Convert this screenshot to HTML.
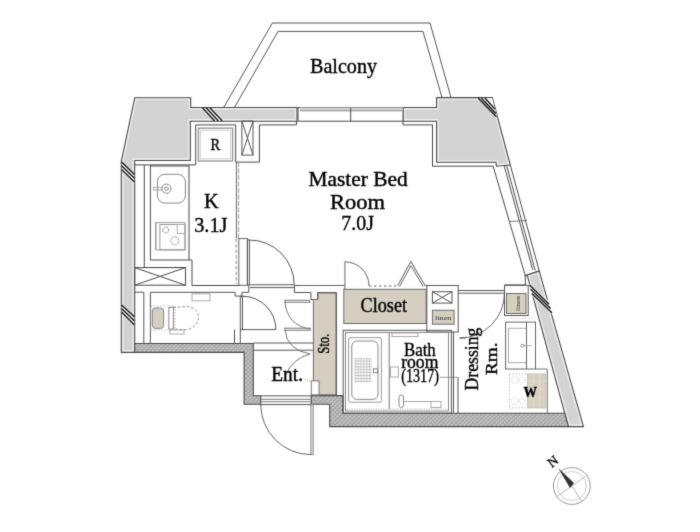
<!DOCTYPE html>
<html><head><meta charset="utf-8"><style>
html,body{margin:0;padding:0;background:#fff;}
svg{display:block;will-change:transform;}
text{font-family:"Liberation Serif",serif;fill:#000;stroke:#000;stroke-width:0.4px;}
</style></head><body>
<svg width="700" height="532" viewBox="0 0 700 532">
<defs>
<filter id="bl" x="0" y="0" width="700" height="532" filterUnits="userSpaceOnUse" color-interpolation-filters="sRGB"><feConvolveMatrix order="3" kernelMatrix="0.0144 0.0912 0.0144 0.0912 0.5776 0.0912 0.0144 0.0912 0.0144" divisor="1" edgeMode="duplicate"/></filter>
<pattern id="h" width="3" height="3" patternUnits="userSpaceOnUse" patternTransform="rotate(45)">
<rect width="3" height="3" fill="#c6c6c6"/><rect width="0.9" height="3" fill="#9a9a9a"/><rect width="3" height="0.9" fill="#a6a6a6"/>
</pattern>
<pattern id="h2" width="2.9" height="2.9" patternUnits="userSpaceOnUse">
<circle cx="1.45" cy="1.45" r="0.95" fill="#9a9a9a"/>
</pattern>
</defs>
<g filter="url(#bl)">
<rect width="700" height="532" fill="#fff"/>

<!-- BALCONY -->
<g fill="none" stroke="#555" stroke-width="1">
<polyline points="223.6,107.6 272.4,23 430,23 451,97.6"/>
<polyline points="234.4,107.6 278,31.4 423,31.4 442,97.6"/>
</g>

<!-- GRAY WALLS -->
<clipPath id="gc0"><polygon points="134.8,97.7 190.7,97.7 190.7,107.5 297,107.5 297,121.2 190.3,121.2 190.3,160.5 134.7,160.5 134.7,352.4 121.3,352.4 121.3,161.3"/></clipPath>
<polygon points="134.8,97.7 190.7,97.7 190.7,107.5 297,107.5 297,121.2 190.3,121.2 190.3,160.5 134.7,160.5 134.7,352.4 121.3,352.4 121.3,161.3" fill="#d3d3d3"/>
<polygon points="134.8,97.7 190.7,97.7 190.7,107.5 297,107.5 297,121.2 190.3,121.2 190.3,160.5 134.7,160.5 134.7,352.4 121.3,352.4 121.3,161.3" fill="none" stroke="#eeeeee" stroke-width="4.2" clip-path="url(#gc0)"/>
<polygon points="134.8,97.7 190.7,97.7 190.7,107.5 297,107.5 297,121.2 190.3,121.2 190.3,160.5 134.7,160.5 134.7,352.4 121.3,352.4 121.3,161.3" fill="none" stroke="#4a4a4a" stroke-width="1.1"/>
<clipPath id="gc1"><polygon points="403,107.5 436.6,107.5 436.6,97.6 492.3,97.6 510.3,165.1 496.5,166.2 496,162.3 436.6,162.3 436.6,121.2 403,121.2"/></clipPath>
<polygon points="403,107.5 436.6,107.5 436.6,97.6 492.3,97.6 510.3,165.1 496.5,166.2 496,162.3 436.6,162.3 436.6,121.2 403,121.2" fill="#d3d3d3"/>
<polygon points="403,107.5 436.6,107.5 436.6,97.6 492.3,97.6 510.3,165.1 496.5,166.2 496,162.3 436.6,162.3 436.6,121.2 403,121.2" fill="none" stroke="#eeeeee" stroke-width="4.2" clip-path="url(#gc1)"/>
<polygon points="403,107.5 436.6,107.5 436.6,97.6 492.3,97.6 510.3,165.1 496.5,166.2 496,162.3 436.6,162.3 436.6,121.2 403,121.2" fill="none" stroke="#4a4a4a" stroke-width="1.1"/>
<clipPath id="gc2"><polygon points="527.1,274.9 539.2,270.9 583.5,426.6 568.4,426.6"/></clipPath>
<polygon points="527.1,274.9 539.2,270.9 583.5,426.6 568.4,426.6" fill="#d3d3d3"/>
<polygon points="527.1,274.9 539.2,270.9 583.5,426.6 568.4,426.6" fill="none" stroke="#eeeeee" stroke-width="4.2" clip-path="url(#gc2)"/>
<polygon points="527.1,274.9 539.2,270.9 583.5,426.6 568.4,426.6" fill="none" stroke="#4a4a4a" stroke-width="1.1"/>
<!-- window top -->
<g stroke="#4a4a4a" stroke-width="1" fill="none">
<rect x="298" y="107.5" width="105" height="13.7" fill="#fff"/>
<rect x="300" y="107.5" width="103" height="3.2" fill="#d3d3d3" stroke="none"/>
<line x1="300" y1="110.8" x2="403" y2="110.8" stroke="#888"/>
<line x1="350.7" y1="108" x2="350.7" y2="121.2"/>
<line x1="296.5" y1="121.2" x2="296.5" y2="125"/>
</g>

<!-- HATCHED WALLS -->
<g fill="url(#h)" stroke="#4a4a4a" stroke-width="1.1">
<polygon points="134.7,343.5 253.3,343.5 253.3,395.8 260.7,395.8 260.7,404.2 244.1,404.2 244.1,352.4 134.7,352.4"/>
<polygon points="311.3,395.6 342.9,395.6 342.9,413.2 564.7,413.2 568.4,426.6 329.7,426.6 329.7,404.3 311.3,404.3"/>
</g>

<!-- triple break lines -->
<g fill="#fff" stroke="none">
<polygon points="200.8,108 211.6,108 224.2,120.6 213.2,120.6"/>
<polygon points="121.8,161.5 121.8,171.6 134.2,183.6 134.2,173.6"/>
<polygon points="121.8,304.3 121.8,314.2 134.2,326.3 134.2,316.3"/>
<polygon points="477,98.1 492,98.1 497.5,117.5"/>
<polygon points="528.8,283.6 532,296 552,314 550,302"/>
</g>
<g stroke="#111" stroke-width="1.4">
<line x1="202.4" y1="107.8" x2="214.7" y2="121"/>
<line x1="206.1" y1="107.8" x2="218.4" y2="121"/>
<line x1="209.8" y1="107.8" x2="222.4" y2="121"/>
<line x1="121.5" y1="162" x2="134.5" y2="174.6"/>
<line x1="121.5" y1="165.7" x2="134.5" y2="178.2"/>
<line x1="121.5" y1="169.4" x2="134.5" y2="182"/>
<line x1="121.5" y1="304.9" x2="134.5" y2="317"/>
<line x1="121.5" y1="308.5" x2="134.5" y2="321"/>
<line x1="121.5" y1="312.1" x2="134.5" y2="325"/>
<line x1="478.2" y1="98" x2="496.5" y2="116.8"/>
<line x1="481.3" y1="98" x2="495.9" y2="113.4"/>
<line x1="484.9" y1="98" x2="494.8" y2="108.9"/>
<line x1="529.5" y1="285.1" x2="549.1" y2="304.3"/>
<line x1="530.6" y1="289.3" x2="550.6" y2="308.5"/>
<line x1="531.8" y1="293.6" x2="551.9" y2="312.8"/>
</g>

<!-- FINISH LINES (room outlines) -->
<g fill="none" stroke="#4a4a4a" stroke-width="1">
<polyline points="134.7,164.9 195.7,164.9 195.7,124.9 235.7,124.9 235.7,162.1 259.4,162.1 259.4,124.9 296.5,124.9"/>
<polyline points="403,121.2 403,124.9 432.5,124.9 432.5,166.2 493.1,166.2 525.4,276 525.4,285 504.5,285 504.5,291"/>
<!-- slanted window -->
<line x1="504.3" y1="166" x2="532.7" y2="269.7"/>
<line x1="506.8" y1="166" x2="535.2" y2="270.5"/>
<line x1="524.2" y1="275.9" x2="539.8" y2="270.8"/>
<line x1="509" y1="221.5" x2="526.8" y2="220.5" stroke="#777"/>
<line x1="510.3" y1="165.1" x2="539.2" y2="270.9"/>
</g>

<!-- KITCHEN -->
<g fill="none" stroke="#4a4a4a" stroke-width="1">
<line x1="144.3" y1="165" x2="144.3" y2="267.5"/>
<polyline points="150.4,165 150.4,260 189,260"/>
<line x1="150.4" y1="166" x2="189" y2="166"/>
<polyline points="189,165 189,260 192,260 192,285.5 240.5,285.5"/>
<polyline points="144.3,267.5 185.5,267.5 185.5,285.3"/>
<rect x="134.7" y="267.6" width="50.8" height="17.6"/>
<line x1="134.7" y1="267.6" x2="185.5" y2="285.2"/>
<line x1="185.5" y1="267.6" x2="134.7" y2="285.2"/>
</g>
<!-- sink -->
<g fill="none" stroke="#888" stroke-width="1">
<rect x="157.4" y="174.3" width="28" height="28.8" rx="7.5"/>
<circle cx="166.5" cy="188.7" r="4.6"/>
<circle cx="166.5" cy="188.7" r="1.8"/>
<rect x="153.5" y="187.4" width="8" height="2.6" stroke="#aaa"/>
<line x1="155.8" y1="222.6" x2="155.8" y2="249.9"/>
<rect x="155.8" y="222.6" width="29.2" height="27.3" stroke="#999"/>
<rect x="159.9" y="224.5" width="25.1" height="25.4" stroke="#999"/>
<rect x="177.3" y="224.5" width="7.7" height="9" stroke="#aaa"/>
<circle cx="165.7" cy="230" r="3" stroke-dasharray="1.6,0.8"/>
<circle cx="174.8" cy="240.8" r="4" stroke-dasharray="1.8,0.9"/>
</g>
<!-- fridge -->
<g fill="none" stroke="#555" stroke-width="1">
<rect x="198.4" y="128.2" width="34.2" height="32.8" stroke="#9a9a9a" stroke-width="1.4"/>
<rect x="200.6" y="130.4" width="29.8" height="28.4" stroke="#d0d0d0"/>
<rect x="241.9" y="121" width="11.1" height="34.1"/>
<line x1="241.9" y1="121" x2="253" y2="155.1"/>
<line x1="253" y1="121" x2="241.9" y2="155.1"/>
</g>

<!-- sliding partition kitchen / master -->
<g fill="none" stroke="#666" stroke-width="1">
<line x1="236.4" y1="162" x2="236.4" y2="238.5"/>
<line x1="238.6" y1="162" x2="238.6" y2="238.5" stroke-dasharray="5,1.5" stroke="#999"/>
<rect x="238.8" y="238.6" width="8.6" height="46.7"/>
<line x1="236.2" y1="238.6" x2="236.2" y2="284" stroke-dasharray="3.5,2" stroke="#888"/>
</g>

<!-- master door -->
<g fill="none" stroke="#555" stroke-width="1">
<rect x="247.4" y="239.9" width="2" height="45"/>
<path d="M249.4,240 A44.8,44.8 0 0 1 294.2,284.8"/>
<line x1="250" y1="284.8" x2="294.5" y2="284.8"/>
<line x1="250" y1="287.6" x2="294.5" y2="287.6"/>
<polyline points="294.5,285.5 345,285.5"/>
<polyline points="294.5,285.5 294.5,292.5 311,292.5 311,299.5 313.5,299.5"/>
<polyline points="317.5,299 317.5,292.5 336.5,292.5 336.5,395.5"/>
</g>

<!-- toilet area -->
<g fill="none" stroke="#555" stroke-width="1">
<polyline points="150.4,343.5 150.4,292.3 235.1,292.3 235.1,296.1 242,296.1"/>
<line x1="143.8" y1="292.2" x2="143.8" y2="343.5"/>
<line x1="134.7" y1="292.2" x2="143.8" y2="292.2"/>
<rect x="240.3" y="296.2" width="2.2" height="33.4"/>
<path d="M242.5,296.2 A33.4,33.4 0 0 1 275.9,329.6"/>
<line x1="242.5" y1="329.6" x2="275.9" y2="329.6"/>
<polyline points="234.5,329.6 234.5,343.5"/>
<polyline points="240.3,329.6 240.3,343.5"/>
<polyline points="242,296.1 242,292.3 248.8,292.3 248.8,285"/>
</g>
<!-- toilet -->
<g fill="none" stroke="#888" stroke-width="1">
<rect x="152.4" y="308" width="11.2" height="20.4" rx="3" fill="#d4cfc0"/>
<rect x="168.8" y="307.4" width="4.6" height="21.6"/>
<path d="M173.4,307.4 L188,306.5 Q199,309 198.4,318 Q197,328 186,329.7 L173.4,329" stroke-dasharray="2.5,2"/>
<rect x="151" y="306" width="24" height="24" stroke="#bbb" stroke-dasharray="1.5,1.5"/>
<rect x="192" y="293.8" width="18" height="7" stroke="#aaa"/>
<rect x="170" y="330" width="14" height="4" stroke="#aaa"/>
</g>

<!-- entrance / storage doors -->
<g fill="none" stroke="#555" stroke-width="1">
<line x1="253.3" y1="343" x2="313.5" y2="343"/>
<line x1="253.3" y1="350.2" x2="313.5" y2="350.2"/>
<rect x="284.8" y="300.3" width="25" height="2" stroke="#777"/>
<rect x="284.8" y="328.2" width="25.5" height="2" stroke="#777"/>
<path d="M285,302 Q287,325 310,329" stroke="#777"/>
<path d="M285,330 Q287,350 310,354" stroke="#777"/>
<path d="M310,354 Q293,358 285,376" stroke="#777"/>
<rect x="310.9" y="404.6" width="2.3" height="50" fill="#e4e4e4" stroke="#8a8a8a"/>
<path d="M260.7,404.6 A50.2,50.2 0 0 0 310.9,454.6" stroke="#666"/>
<line x1="260.7" y1="395.9" x2="311.3" y2="395.9"/>
<line x1="260.7" y1="399.3" x2="311.3" y2="399.3" stroke="#777"/>
<line x1="260.7" y1="401.8" x2="311.3" y2="401.8" stroke="#777"/>
<line x1="260.7" y1="404.6" x2="311.3" y2="404.6"/>
</g>

<!-- BEIGE: sto, closet, linen -->
<g fill="#d4cfc0" stroke="#6b6b6b" stroke-width="1">
<polygon points="313.4,299.5 318,299.5 318,293 336,293 336,394.8 313.4,394.8"/>
<rect x="343.8" y="289.3" width="82.4" height="34.2"/>
<rect x="432.4" y="310.3" width="21.7" height="13.9"/>
<rect x="506.5" y="293.5" width="19.5" height="20"/>
</g>

<rect x="311.3" y="380.9" width="7.8" height="14" fill="#fff" stroke="#777" stroke-width="1"/>
<path d="M305,379.5 L311.3,380.9" stroke="#999" stroke-width="0.8" stroke-dasharray="1,1" fill="none"/>
<!-- closet doors -->
<g fill="none" stroke="#666" stroke-width="1">
<line x1="344.9" y1="261.8" x2="344.9" y2="289"/>
<path d="M344.9,261.8 A24.2,24.2 0 0 1 369.1,286"/>
<line x1="369" y1="286" x2="398" y2="286" stroke-dasharray="2.5,2.5"/>
<polyline points="398.6,286 410.9,263.6 424.1,286" stroke="#666" stroke-width="3"/>
<polyline points="398.6,286 410.9,263.6 424.1,286" stroke="#fff" stroke-width="1.2"/>
<line x1="300" y1="285.5" x2="345" y2="285.5"/>
<line x1="425" y1="285.5" x2="458" y2="285.5"/>
</g>

<!-- shaft & linen enclosure -->
<g fill="none" stroke="#555" stroke-width="1">
<rect x="426.8" y="285.5" width="31.4" height="46.5"/>
<rect x="432.4" y="291.7" width="19.6" height="11.4"/>
<line x1="432.4" y1="291.7" x2="452" y2="303.1"/>
<line x1="452" y1="291.7" x2="432.4" y2="303.1"/>
<line x1="458.2" y1="290.5" x2="504.5" y2="290.5"/>
<line x1="458.2" y1="293.2" x2="504.5" y2="293.2"/>
<path d="M504.5,293.2 A44.8,44.8 0 0 1 459.7,338" stroke="#666"/>
<line x1="458" y1="377" x2="458" y2="413"/>
<line x1="440" y1="377.3" x2="458" y2="377.3" stroke="#999"/>
<line x1="459.7" y1="338" x2="466" y2="338"/>
<rect x="504.5" y="285.3" width="23.7" height="30.2"/>
</g>

<!-- BATHROOM -->
<g fill="none" stroke="#555" stroke-width="1">
<rect x="343.2" y="330.3" width="108.2" height="82.9"/>
<rect x="345.5" y="332.5" width="103" height="78.5" stroke="#888"/>
<line x1="389.2" y1="333" x2="389.2" y2="409" stroke="#777"/>
<line x1="453.5" y1="332" x2="453.5" y2="413"/>
</g>
<g fill="none" stroke="#888" stroke-width="1">
<rect x="348.6" y="337.7" width="32.8" height="64.5" rx="1.5" stroke="#999"/>
<rect x="351.8" y="341" width="26.2" height="58.4" rx="5"/>
<rect x="354.4" y="358" width="17.6" height="24.5" fill="url(#h2)" stroke="none"/>
<rect x="373.5" y="368.8" width="4" height="4"/>
<rect x="390.5" y="367" width="8" height="10" stroke="#aaa"/>
<rect x="399" y="395" width="4.5" height="12.5" rx="2.2"/>
<line x1="403.5" y1="401.5" x2="431" y2="401.5" stroke="#aaa"/>
<rect x="431" y="401.5" width="10" height="6" stroke="#aaa"/>
<line x1="347" y1="409" x2="447" y2="409" stroke="#bbb" stroke-dasharray="1.2,1.2"/>
<rect x="392" y="333" width="26" height="3.5" stroke="#aaa"/>
</g>

<!-- DRESSING fixtures -->
<g fill="none" stroke="#777" stroke-width="1">
<rect x="505.6" y="322.1" width="29.9" height="46.9" stroke="#666"/>
<rect x="508.5" y="328.3" width="18" height="34.4" stroke="#aaa"/>
<line x1="526.5" y1="322.1" x2="526.5" y2="369" stroke="#666"/>
<path d="M521,344.5 h3 v2.4 h-3 z M524,345.7 h7.5" stroke="#aaa"/>
<line x1="510" y1="318.2" x2="535" y2="318.2" stroke="#ccc" stroke-dasharray="1.5,1.5"/>
<rect x="509.5" y="374" width="36.3" height="33.8" stroke="#bbb" stroke-dasharray="1.5,1.5"/>
<rect x="527.4" y="374" width="18.4" height="33.8" fill="#d6d1c2" stroke="#c8c3b4"/>
<path d="M527.4,381 H545.8 M527.4,389 H545.8 M527.4,397 H545.8 M533.5,374 V407.8 M539.6,374 V407.8" stroke="#e2ddd0" stroke-width="0.8"/>
<circle cx="515" cy="380" r="3.5" stroke="#ccc" stroke-dasharray="1,1"/>
<circle cx="515" cy="401" r="3.5" stroke="#ccc" stroke-dasharray="1,1"/>
<circle cx="522" cy="380" r="3" stroke="#ccc" stroke-dasharray="1,1"/>
<circle cx="522" cy="401" r="3" stroke="#ccc" stroke-dasharray="1,1"/>
<line x1="547.3" y1="369" x2="547.3" y2="413"/>
<line x1="535.5" y1="369" x2="547.3" y2="369"/>
</g>

<!-- COMPASS -->
<g fill="none" stroke="#999" stroke-width="1">
<circle cx="571.8" cy="486" r="18.4"/>
<circle cx="571.8" cy="486" r="14.5" stroke="#ccc"/>
<line x1="556" y1="497" x2="587.6" y2="475" stroke="#bbb"/>
<line x1="562" y1="471" x2="581.6" y2="501" stroke="#bbb"/>
</g>
<polygon points="558.3,468.3 574,483 570,488" fill="#333"/>
<text font-size="13.5" transform="translate(555.5,465) rotate(-37.6)" text-anchor="middle">N</text>

<!-- TEXT -->
<text x="310" y="73" font-size="21" textLength="67" lengthAdjust="spacingAndGlyphs">Balcony</text>
<text x="308.5" y="185.6" font-size="21" textLength="99.2" lengthAdjust="spacingAndGlyphs">Master Bed</text>
<text x="330" y="208.9" font-size="21" textLength="54.9" lengthAdjust="spacingAndGlyphs">Room</text>
<text x="341.3" y="230.3" font-size="22" textLength="32.6" lengthAdjust="spacingAndGlyphs">7.0J</text>
<text x="204.1" y="208.2" font-size="21" textLength="14.7" lengthAdjust="spacingAndGlyphs">K</text>
<text x="194.2" y="231.6" font-size="22" textLength="33.3" lengthAdjust="spacingAndGlyphs">3.1J</text>
<text x="210.6" y="149.8" font-size="17" textLength="9.6" lengthAdjust="spacingAndGlyphs">R</text>
<text x="360.6" y="312" font-size="20" textLength="46.4" lengthAdjust="spacingAndGlyphs">Closet</text>
<text x="271.3" y="381.3" font-size="20" textLength="31.7" lengthAdjust="spacingAndGlyphs">Ent.</text>
<text x="404" y="355.6" font-size="18.5" textLength="31.8" lengthAdjust="spacingAndGlyphs">Bath</text>
<text x="401.2" y="367.9" font-size="18.5" textLength="37.2" lengthAdjust="spacingAndGlyphs">room</text>
<text x="401.2" y="382.4" font-size="18" textLength="37.8" lengthAdjust="spacingAndGlyphs">(1317)</text>
<text transform="translate(478.2,390.4) rotate(-90)" font-size="19" textLength="62.7" lengthAdjust="spacingAndGlyphs">Dressing</text>
<text transform="translate(497.3,374.9) rotate(-90)" font-size="17" textLength="32.4" lengthAdjust="spacingAndGlyphs">Rm.</text>
<text transform="translate(329,353.8) rotate(-90)" font-size="16.5" textLength="20.2" lengthAdjust="spacingAndGlyphs">Sto.</text>
<text x="523.4" y="397" font-size="14" textLength="13.5" lengthAdjust="spacingAndGlyphs" font-weight="bold">W</text>
<text x="435" y="320.3" font-size="7" textLength="16.5" lengthAdjust="spacingAndGlyphs" style="stroke-width:0;fill:#333">linen</text>
<text transform="translate(519.5,311) rotate(-90)" font-size="7" textLength="15" lengthAdjust="spacingAndGlyphs" style="stroke-width:0;fill:#333">linen</text>
</g>
</svg>
</body></html>
